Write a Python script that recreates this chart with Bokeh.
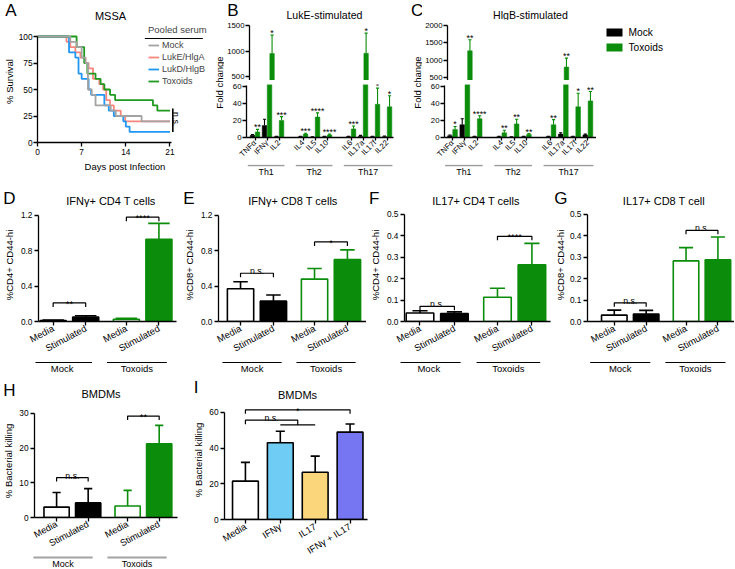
import math
from bokeh.plotting import figure
from bokeh.models import Range1d, FixedTicker, Legend, LegendItem, NumeralTickFormatter
from bokeh.layouts import row, column
from bokeh.embed import file_html
from bokeh.resources import INLINE
from bokeh.core.properties import value

FONT = "Liberation Sans"
GREEN = "#0b8d0b"

# ---------------- Panel A: survival (%) after each step day ----------------
a_series = ["Mock", "LukE/HlgA", "LukD/HlgB", "Toxoids"]
a_mock_day = [0, 5.2, 6.2, 7.0, 7.6, 8.0, 8.6, 9.2, 11.6, 12.4, 16.5, 21]
a_mock_pct = [100, 95, 90, 80, 75, 50, 45, 35, 30, 25, 20, 20]
a_luke_day = [0, 4.6, 5.2, 6.0, 6.8, 7.6, 8.1, 8.8, 9.8, 10.4, 10.9, 11.5, 12.1, 13.2, 13.9, 21]
a_luke_pct = [100, 95, 90, 85, 80, 75, 70, 60, 55, 50, 40, 35, 30, 25, 20, 20]
a_lukd_day = [0, 5.0, 6.0, 6.5, 7.0, 8.1, 8.5, 10.6, 11.3, 12.1, 13.6, 14.0, 14.6, 21]
a_lukd_pct = [100, 85, 80, 65, 60, 50, 45, 35, 30, 25, 20, 15, 10, 10]
a_tox_day = [0, 6.2, 7.4, 7.9, 9.2, 10.0, 10.6, 11.5, 12.3, 18.3, 19.0, 21]
a_tox_pct = [100, 90, 75, 65, 60, 55, 50, 45, 40, 35, 30, 30]
a_xticks = [0, 7, 14, 21]
a_yticks = [0, 25, 50, 75, 100]

# ---------------- Panels B, C: fold change ----------------
th_groups = ["Th1", "Th2", "Th17"]
th_members = [["TNFα", "IFNγ", "IL2"], ["IL4", "IL5", "IL10"], ["IL6", "IL17a", "IL17f", "IL22"]]
cyto_names = [c for g in th_members for c in g]
b_mock = [2.5, 14, 1.0, 1.0, 0.5, 1.0, 1.0, 1.5, 1.0, 1.0]
b_mock_err = [1.0, 7.5, 0.5, 0.5, 0.3, 0.5, 0.5, 1.0, 0.5, 0.8]
b_tox = [6.5, 950, 20, 4.0, 24, 3.0, 10, 955, 39, 36]
b_tox_err = [3.0, 360, 4.5, 1.0, 5.0, 1.0, 3.5, 395, 19, 13]
b_stars = ["**", "*", "***", "***", "****", "****", "***", "*", "*", "*"]
c_mock = [2.0, 15, 1.0, 1.0, 0.5, 1.0, 1.0, 4.0, 1.0, 3.0]
c_mock_err = [1.0, 7.0, 0.5, 0.5, 0.3, 0.5, 0.5, 1.5, 0.5, 1.0]
c_tox = [9.5, 1270, 22, 5.5, 16, 3.5, 15, 800, 36, 43]
c_tox_err = [3.5, 320, 3.5, 3.0, 5.5, 1.0, 6.0, 260, 16, 11]
c_stars = ["*", "**", "****", "**", "**", "**", "**", "**", "*", "**"]
b_low_ticks = [0, 20, 40, 60]
b_up_ticks = [500, 1000, 1500]
c_up_ticks = [500, 1000, 1500, 2000]

# ---------------- Panels D-H: Media / Stimulated per group ----------------
cond_groups = ["Mock", "Toxoids"]
cond_names = ["Media", "Stimulated"]
d_mean = [0.010, 0.050, 0.025, 0.930]
d_err = [0.005, 0.015, 0.010, 0.180]
d_sig = ["**", "****"]
d_sig_y = [0.21, 1.18]
e_mean = [0.37, 0.23, 0.48, 0.70]
e_err = [0.08, 0.07, 0.12, 0.11]
e_sig = ["n.s.", "*"]
e_sig_y = [0.546, 0.90]
f_mean = [0.040, 0.037, 0.113, 0.265]
f_err = [0.010, 0.008, 0.042, 0.100]
f_sig = ["n.s.", "****"]
f_sig_y = [0.071, 0.398]
g_mean = [0.030, 0.035, 0.283, 0.288]
g_err = [0.023, 0.017, 0.062, 0.107]
g_sig = ["n.s.", "n.s."]
g_sig_y = [0.087, 0.426]
h_mean = [3.0, 4.2, 3.3, 21.2]
h_err = [4.2, 4.1, 4.5, 5.3]
h_sig = ["n.s.", "**"]
h_sig_y = [11.5, 29.2]

# ---------------- Panel I ----------------
i_names = ["Media", "IFNγ", "IL17", "IFNγ + IL17"]
i_mean = [21.5, 43.0, 26.5, 49.0]
i_err = [10.5, 6.5, 9.0, 4.5]
i_sig = ["n.s.", "*"]
i_sig_y = [55.7, 61.5]
i_ns_join = 53.0
i_fills = ["white", "#6fcdf5", "#fbd67a", "#7676f2"]


def base_fig(w, h, l, r, t, b, xr, yr, xaxis=True, yaxis=True):
    p = figure(width=w, height=h, x_range=xr, y_range=yr, output_backend="svg",
               toolbar_location=None, title=None,
               x_axis_location="below" if xaxis else None,
               y_axis_location="left" if yaxis else None,
               min_border_left=l, min_border_right=r, min_border_top=t, min_border_bottom=b)
    try:
        p.frame_align = False
    except Exception:
        pass
    p.outline_line_color = None
    p.background_fill_color = "white"
    p.border_fill_color = "white"
    for g in p.grid:
        g.visible = False
    return p


def pix_fig(w, h):
    # plain drawing area whose data units are pixels
    return base_fig(w, h, 0, 0, 0, 0, Range1d(0, w), Range1d(0, h), xaxis=False, yaxis=False)


def style_axes(p, tick_fs="8.3px", lab_fs="9.5px"):
    for ax in p.axis:
        ax.axis_line_color = "black"
        ax.axis_line_width = 1.3
        ax.major_tick_line_color = "black"
        ax.major_tick_line_width = 1.3
        ax.major_tick_in = 0
        ax.major_tick_out = 4
        ax.minor_tick_line_color = None
        ax.major_label_text_font = FONT
        ax.major_label_text_font_size = tick_fs
        ax.major_label_text_color = "black"
        ax.major_label_standoff = 2
        ax.axis_label_text_font = FONT
        ax.axis_label_text_font_size = lab_fs
        ax.axis_label_text_font_style = "normal"
        ax.axis_label_text_color = "black"
        ax.axis_label_standoff = 3


def txt(p, x, y, t, size, align="center", baseline="alphabetic", yoff=0, angle=0):
    p.text(x=x, y=y, text=t, text_align=align, text_baseline=baseline, y_offset=yoff,
           angle=angle, text_font=value(FONT), text_font_size=size, text_color="black")


def header(w, h, l, r, letter_txt, lcy, lstand, title, tx, ty, tsize="11px", tbase="middle"):
    # header strip sharing the panel's borders; the panel letter is a tick label in the left border
    fw = w - l - r
    p = base_fig(w, h, l, r, 0, 0, Range1d(0, fw), Range1d(0, h), xaxis=False, yaxis=letter_txt is not None)
    if letter_txt is not None:
        ax = p.yaxis[0]
        ax.ticker = FixedTicker(ticks=[lcy])
        ax.major_label_overrides = {lcy: letter_txt}
        ax.axis_line_color = None
        ax.major_tick_line_color = None
        ax.minor_tick_line_color = None
        ax.major_tick_in = 0
        ax.major_tick_out = 0
        ax.major_label_standoff = lstand
        ax.major_label_text_font = FONT
        ax.major_label_text_font_size = "17px"
        ax.major_label_text_color = "black"
    txt(p, [tx], [ty], [title], tsize, baseline=tbase)
    return p


# ================= A =================
A_W, A_L, A_FW, A_FH, A_B = 212, 31, 181, 122, 35
A_XEND, A_YTOP = 27.74, 115.1
hA = header(A_W, 20, A_L, A_W - A_L - A_FW, "A", 10.5, 15, "MSSA", 110 - A_L, 5)
pA = base_fig(A_W, A_FH + A_B, A_L, A_W - A_L - A_FW, 0, A_B, Range1d(0, A_XEND), Range1d(0, A_YTOP))
style_axes(pA)
pA.yaxis.major_label_standoff = 1
pA.yaxis.axis_label_standoff = 1
pA.xaxis.ticker = FixedTicker(ticks=a_xticks)
pA.yaxis.ticker = FixedTicker(ticks=a_yticks)
pA.xaxis.bounds = (0, 21.2)
pA.yaxis.bounds = (0, 100)
pA.xaxis.axis_label = "Days post Infection"
pA.yaxis.axis_label = "% Survival"
a_days = [a_mock_day, a_luke_day, a_lukd_day, a_tox_day]
a_pcts = [a_mock_pct, a_luke_pct, a_lukd_pct, a_tox_pct]
a_colors = ["#a3a3a3", "#f7877d", "#2196f3", "#1f9a1f"]
rendA = {}
for i in [1, 2, 3, 0]:
    rendA[a_series[i]] = pA.step(x=a_days[i], y=a_pcts[i], mode="after",
                                 line_color=a_colors[i], line_width=1.8)
LEG_X, LEG_Y = 111, 56
legA = Legend(items=[LegendItem(label=n, renderers=[rendA[n]]) for n in a_series],
              location=(LEG_X, LEG_Y), title="Pooled serum")
legA.title_text_font = FONT
legA.title_text_font_size = "9.5px"
legA.title_text_font_style = "normal"
legA.label_text_font = FONT
legA.label_text_font_size = "9px"
legA.glyph_width = 11
legA.glyph_height = 10
legA.label_height = 10
legA.spacing = 2
legA.padding = 0
legA.margin = 0
legA.label_standoff = 3
legA.title_standoff = 5
legA.background_fill_alpha = 0
legA.border_line_color = None
pA.add_layout(legA)
xs_px = A_XEND / A_FW
ys_px = A_YTOP / A_FH
pA.segment(x0=[LEG_X * xs_px], y0=[(A_FH - 18) * ys_px], x1=[(LEG_X + 60) * xs_px],
           y1=[(A_FH - 18) * ys_px], line_color="black", line_width=1.2)
finals = [s[-1] for s in a_pcts]
pA.segment(x0=[21.45], y0=[min(finals)], x1=[21.45], y1=[max(finals) + 2],
           line_color="black", line_width=1.6)
txt(pA, [21.95], [(min(finals) + max(finals)) / 2 + 2], ["n.s."], "8.8px",
    baseline="middle", angle=-math.pi / 2)
colA = column(hA, pA)

# ================= B, C =================
slots = []
k = 0
for g in th_members:
    for c in g:
        slots.append(k)
        k += 1
    k += 1

LOW_TOP = 62.3


def cyto_panel(mw, l, fw, xr, title, tx, mock, mock_e, tox, tox_e, stars, up_range,
               up_ticks, letter_txt, letter_in_header, legend_w=0):
    r = mw - l - fw
    UP_FH, LO_FH = 58, 54
    if letter_in_header:
        hd = header(mw, 20, l, r, letter_txt, 10.5, 10, title, tx, 6, "10.6px")
    else:
        hd = header(mw, 20, l, r, None, 0, 0, title, tx, 6, "10.6px")
    up = base_fig(mw, 60, l, r, 2, 0, xr, Range1d(*up_range), xaxis=False)
    lo = base_fig(mw, 84, l, r, 4, 26, xr, Range1d(0, LOW_TOP))
    st = base_fig(mw, 13, l, r, 0, 0, xr, Range1d(0, 13), xaxis=False, yaxis=False)
    style_axes(up, "7.8px")
    style_axes(lo, "7.8px")
    for p in (up, lo):
        p.yaxis.major_label_standoff = 1
    up.yaxis.ticker = FixedTicker(ticks=up_ticks)
    up.yaxis.bounds = (up_range[0], up_ticks[-1])
    lo.yaxis.ticker = FixedTicker(ticks=b_low_ticks)
    lo.yaxis.bounds = (0, 61)
    lo.xaxis.ticker = FixedTicker(ticks=slots)
    lo.xaxis.major_label_overrides = {s: c for s, c in zip(slots, cyto_names)}
    lo.xaxis.major_label_orientation = math.pi / 4
    lo.xaxis.major_tick_out = 3
    lo.xaxis.major_label_standoff = 1
    xm = [s - 0.21 for s in slots]
    xt = [s + 0.21 for s in slots]
    tox_top = [a + b for a, b in zip(tox, tox_e)]
    for p, fh, is_up in ((up, UP_FH, True), (lo, LO_FH, False)):
        upx = (p.y_range.end - p.y_range.start) / fh
        p.vbar(x=xm, top=mock, width=0.38, fill_color="black", line_color="black", line_width=0.5)
        p.vbar(x=xt, top=tox, width=0.38, fill_color=GREEN, line_color=GREEN, line_width=0.5)
        for xs, m, e, col in ((xm, mock, mock_e, "black"), (xt, tox, tox_e, GREEN)):
            tops = [a + b for a, b in zip(m, e)]
            p.segment(x0=xs, y0=m, x1=xs, y1=tops, line_color=col, line_width=1.1)
            p.segment(x0=[x - 0.13 for x in xs], y0=tops, x1=[x + 0.13 for x in xs], y1=tops,
                      line_color=col, line_width=1.1)
        # each significance mark only in the axis segment that holds its error bar top
        idx = [i for i, t in enumerate(tox_top) if (t > LOW_TOP) == is_up]
        if idx:
            txt(p, [xt[i] for i in idx], [tox_top[i] + 2 * upx for i in idx],
                [stars[i] for i in idx], "8.8px")
    for g, members in zip(th_groups, th_members):
        s0 = slots[cyto_names.index(members[0])] - 0.6
        s1 = slots[cyto_names.index(members[-1])] + 0.45
        st.segment(x0=[s0], y0=[12], x1=[s1], y1=[12], line_color="#9b9b9b", line_width=1.6)
        txt(st, [(s0 + s1) / 2], [5.5], [g], "8.8px", baseline="middle")
    left = pix_fig(12, 177)
    txt(left, [7], [95], ["Fold change"], "9.5px", baseline="middle", angle=math.pi / 2)
    if not letter_in_header:
        txt(left, [0.5], [177], [letter_txt], "17px", align="left", baseline="top")
    parts = [left, column(hd, up, lo, st)]
    if legend_w:
        lg = pix_fig(legend_w, 177)
        ly = [145, 130]
        lg.rect(x=[18, 18], y=ly, width=16, height=8, fill_color=["black", GREEN], line_color=None)
        txt(lg, [32, 32], ly, cond_groups, "10.2px", align="left", baseline="middle")
        parts.append(lg)
    return row(*parts)


colB = cyto_panel(186, 22, 147, Range1d(-0.71, 11.54), "LukE-stimulated", 323 - 246,
                  b_mock, b_mock_err, b_tox, b_tox_err, b_stars, (423, 1558), b_up_ticks, "B", True)
colC = cyto_panel(174, 22, 152, Range1d(-0.65, 11.7), "HlgB-stimulated", 530 - 444,
                  c_mock, c_mock_err, c_tox, c_tox_err, c_stars, (414, 2086), c_up_ticks, "C", False,
                  legend_w=139)

# ================= D - H =================
pos4 = []
k = 0.0
for gi in range(len(cond_groups)):
    for ci in range(len(cond_names)):
        pos4.append(k)
        k += 1
    k += 0.25
cond_fills = ["white", "black", "white", GREEN]
cond_lines = ["black", "black", GREEN, GREEN]


def bracket(p, xa, xb, y, tick, label):
    p.multi_line(xs=[[xa, xa, xb, xb]], ys=[[y - tick, y, y, y - tick]], line_color="black", line_width=1.2)
    if "*" in label:
        txt(p, [(xa + xb) / 2], [y], [label], "9.2px", yoff=1)
    else:
        txt(p, [(xa + xb) / 2], [y], [label], "8.8px", yoff=-2)


def cond_panel(w, l, fw, xr, top, fh, bottom, sh, ytop, yticks, ybound, fmt, title, tx, ty,
               ylabel, means, errs, sig, sig_y, cap, gcol, gw, gy, gty, letter_txt, lcy, lstand,
               ylab_standoff=3, gfs="9.5px", xfs="9.5px"):
    r = w - l - fw
    xr = Range1d(*xr)
    hd = header(w, top, l, r, letter_txt, lcy, lstand, title, tx, ty)
    p = base_fig(w, fh + bottom, l, r, 0, bottom, xr, Range1d(0, ytop))
    st = base_fig(w, sh, l, r, 0, 0, xr, Range1d(0, sh), xaxis=False, yaxis=False)
    style_axes(p)
    p.yaxis.axis_label_standoff = ylab_standoff
    p.yaxis.ticker = FixedTicker(ticks=yticks)
    p.yaxis.bounds = (0, ybound)
    if fmt:
        p.yaxis.formatter = NumeralTickFormatter(format=fmt)
    p.yaxis.axis_label = ylabel
    p.xaxis.ticker = FixedTicker(ticks=pos4)
    p.xaxis.major_label_overrides = {x: n for x, n in zip(pos4, cond_names * len(cond_groups))}
    p.xaxis.major_label_orientation = 0.49
    p.xaxis.major_label_text_font_size = xfs
    p.vbar(x=pos4, top=means, width=0.8, fill_color=cond_fills, line_color=cond_lines, line_width=1.6)
    tops = [a + b for a, b in zip(means, errs)]
    p.segment(x0=pos4, y0=means, x1=pos4, y1=tops, line_color=cond_lines, line_width=1.6)
    p.segment(x0=[x - cap for x in pos4], y0=tops, x1=[x + cap for x in pos4], y1=tops,
              line_color=cond_lines, line_width=1.6)
    tick = 4 * ytop / fh
    for gi in range(len(cond_groups)):
        bracket(p, pos4[2 * gi], pos4[2 * gi + 1], sig_y[gi], tick, sig[gi])
        s0 = pos4[2 * gi] - 0.55
        s1 = pos4[2 * gi + 1] + 0.25
        st.segment(x0=[s0], y0=[gy], x1=[s1], y1=[gy], line_color=gcol, line_width=gw)
        txt(st, [(s0 + s1) / 2], [gty], [cond_groups[gi]], gfs, baseline="middle")
    return column(hd, p, st)


colD = cond_panel(180, 35, 141, (-0.45, 3.79), 31, 114, 39, 13, 1.2785, [0, 0.4, 0.8, 1.2], 1.2, "0.0",
                  "IFNγ+ CD4 T cells", 110 - 35, 8, "%CD4+ CD44-hi", d_mean, d_err, d_sig, d_sig_y,
                  0.33, "black", 1, 12, 6, "D", 10, 21)
colE = cond_panel(186, 38, 148, (-0.67, 3.83), 31, 114, 39, 13, 1.2785, [0, 0.4, 0.8, 1.2], 1.2, "0.0",
                  "IFNγ+ CD8 T cells", 292 - 218, 8, "%CD8+ CD44-hi", e_mean, e_err, e_sig, e_sig_y,
                  0.22, "black", 1, 12, 6, "E", 10, 25)
colF = cond_panel(185, 34, 150, (-0.45, 3.79), 31, 114, 39, 13, 0.5278, [0, 0.1, 0.2, 0.3, 0.4, 0.5], 0.5,
                  "0.0", "IL17+ CD4 T cells", 475 - 400, 8, "%CD4+ CD44-hi", f_mean, f_err, f_sig,
                  f_sig_y, 0.22, "black", 1, 12, 6, "F", 10, 22)
colG = cond_panel(183, 29, 154, (-0.84, 3.77), 31, 114, 39, 13, 0.5278, [0, 0.1, 0.2, 0.3, 0.4, 0.5], 0.5,
                  "0.0", "IL17+ CD8 T cell", 663 - 580, 8, "%CD8+ CD44-hi", g_mean, g_err, g_sig,
                  g_sig_y, 0.22, "black", 1, 12, 6, "G", 10, 14, ylab_standoff=1)
colH = cond_panel(190, 28, 149, (-0.7, 3.83), 30, 116, 35, 13, 32.52, [0, 10, 20, 30], 30, None,
                  "BMDMs", 100 - 28, 11, "% Bacterial killing", h_mean, h_err, h_sig, h_sig_y, 0.13,
                  "#a3a3a3", 2.2, 11, 4.8, "H", 14, 14, ylab_standoff=2, gfs="9px", xfs="9.2px")

# ================= I =================
I_W, I_L, I_FW, I_FH, I_B = 210, 28, 149, 119, 49
I_YTOP = 66.7
i_pos = list(range(len(i_names)))
hI = header(I_W, 26, I_L, I_W - I_L - I_FW, "I", 13.5, 20, "BMDMs", 297 - I_L - 190, 6)
pI = base_fig(I_W, I_FH + I_B, I_L, I_W - I_L - I_FW, 0, I_B, Range1d(-0.6, 3.5), Range1d(0, I_YTOP))
style_axes(pI)
pI.yaxis.axis_label_standoff = 2
pI.yaxis.ticker = FixedTicker(ticks=[0, 20, 40, 60])
pI.yaxis.bounds = (0, 60)
pI.yaxis.axis_label = "% Bacterial killing"
pI.xaxis.ticker = FixedTicker(ticks=i_pos)
pI.xaxis.major_label_overrides = {x: n for x, n in zip(i_pos, i_names)}
pI.xaxis.major_label_orientation = 0.55
pI.xaxis.major_label_text_font_size = "9.5px"
pI.vbar(x=i_pos, top=i_mean, width=0.74, fill_color=i_fills, line_color="black", line_width=1.6)
i_tops = [a + b for a, b in zip(i_mean, i_err)]
pI.segment(x0=i_pos, y0=i_mean, x1=i_pos, y1=i_tops, line_color="black", line_width=1.6)
pI.segment(x0=[x - 0.13 for x in i_pos], y0=i_tops, x1=[x + 0.13 for x in i_pos], y1=i_tops,
           line_color="black", line_width=1.6)
tick_i = 4 * I_YTOP / I_FH
mid12 = (i_pos[1] + i_pos[2]) / 2
pI.multi_line(xs=[[i_pos[0], i_pos[0], mid12, mid12], [i_pos[1], i_pos[2]],
                  [i_pos[0], i_pos[0], i_pos[3], i_pos[3]]],
              ys=[[i_sig_y[0] - tick_i, i_sig_y[0], i_sig_y[0], i_ns_join], [i_ns_join, i_ns_join],
                  [i_sig_y[1] - tick_i, i_sig_y[1], i_sig_y[1], i_sig_y[1] - tick_i]],
              line_color="black", line_width=1.2)
txt(pI, [(i_pos[0] + mid12) / 2], [i_sig_y[0]], [i_sig[0]], "8.8px", yoff=-2)
txt(pI, [(i_pos[0] + i_pos[3]) / 2], [i_sig_y[1]], [i_sig[1]], "9.2px", yoff=1)
colI = column(hI, pI)

layout = column(row(colA, colB, colC), row(colD, colE, colF, colG), row(colH, colI))
open("out.html", "w").write(file_html(layout, INLINE, title="Figure"))
